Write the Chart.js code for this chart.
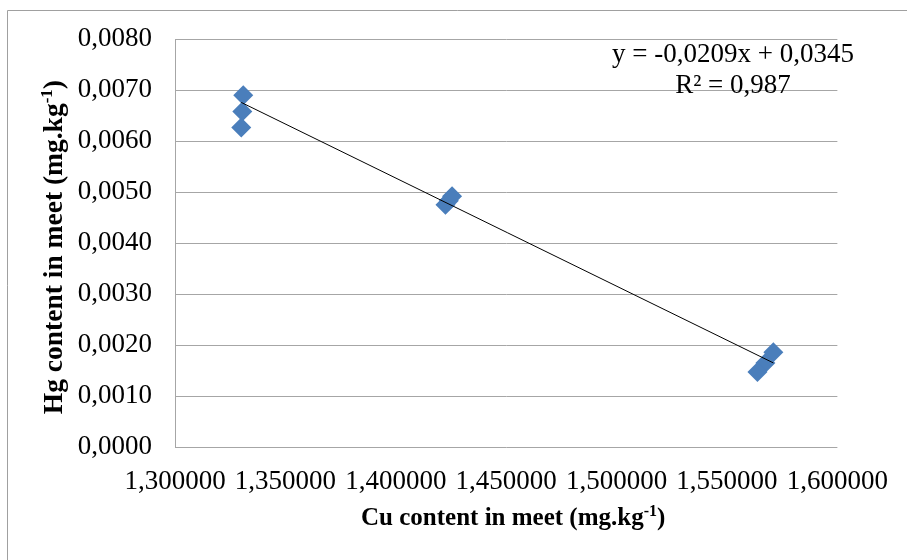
<!DOCTYPE html>
<html>
<head>
<meta charset="utf-8">
<script src="https://cdn.jsdelivr.net/npm/chart.js@4"></script>
<style>
html,body{margin:0;padding:0;background:#fff;}
#wrap{position:relative;width:907px;height:560px;}
canvas{display:block;}
</style>
</head>
<body>
<div id="wrap"><canvas id="c" width="907" height="560"></canvas></div>
<script>
// Data
const cuContent = [1.3309, 1.3305, 1.3300, 1.4255, 1.4240, 1.4225, 1.5710, 1.5674, 1.5638];
const hgContent = [0.00690, 0.00658, 0.00627, 0.00492, 0.00483, 0.00475, 0.00186, 0.00165, 0.00147];
const trendX = [1.3300, 1.5710];
const trendY = [0.00676, 0.00165];
const xTickLabels = ["1,300000", "1,350000", "1,400000", "1,450000", "1,500000", "1,550000", "1,600000"];
const yTickLabels = ["0,0000", "0,0010", "0,0020", "0,0030", "0,0040", "0,0050", "0,0060", "0,0070", "0,0080"];
const equationText = "y = -0,0209x + 0,0345";
const r2Text = "R² = 0,987";
const xTitle = ["Cu content in meet (mg.kg", "-1", ")"];
const yTitle = ["Hg content in meet (mg.kg", "-1", ")"];

const FONT = '"Liberation Serif", "Times New Roman", serif';
const GRID = '#a6a6a6';

function drawSup(ctx, parts, size) {
  const mainF = 'bold ' + size + 'px ' + FONT;
  const supF = 'bold ' + Math.round(size * 0.62) + 'px ' + FONT;
  ctx.font = mainF; const w0 = ctx.measureText(parts[0]).width;
  ctx.font = supF; const w1 = ctx.measureText(parts[1]).width;
  ctx.font = mainF; const w2 = ctx.measureText(parts[2]).width;
  const total = w0 + w1 + w2;
  let x = -total / 2;
  ctx.textAlign = 'left';
  ctx.textBaseline = 'alphabetic';
  ctx.font = mainF; ctx.fillText(parts[0], x, 0); x += w0;
  ctx.font = supF; ctx.fillText(parts[1], x, -size * 0.38); x += w1;
  ctx.font = mainF; ctx.fillText(parts[2], x, 0);
}

const decor = {
  id: 'decor',
  beforeDraw(chart) {
    const ctx = chart.ctx;
    ctx.save();
    ctx.fillStyle = '#fff';
    ctx.fillRect(0, 0, chart.width, chart.height);
    ctx.strokeStyle = '#a0a0a0';
    ctx.lineWidth = 1;
    ctx.beginPath();
    ctx.moveTo(7.5, 560); ctx.lineTo(7.5, 10.5); ctx.lineTo(907, 10.5);
    ctx.stroke();
    ctx.restore();
  },
  afterDraw(chart) {
    const ctx = chart.ctx;
    const area = chart.chartArea;
    ctx.save();
    ctx.fillStyle = '#000';
    // x title
    ctx.save();
    ctx.translate((area.left + area.right) / 2 + 7, 525);
    drawSup(ctx, xTitle, 25);
    ctx.restore();
    // y title
    ctx.save();
    ctx.translate(62, (area.top + area.bottom) / 2 + 4);
    ctx.rotate(-Math.PI / 2);
    drawSup(ctx, yTitle, 27.5);
    ctx.restore();
    // equation
    ctx.font = '27px ' + FONT;
    ctx.textAlign = 'center';
    ctx.textBaseline = 'middle';
    ctx.fillText(equationText, 733, 55);
    ctx.fillText(r2Text, 733, 86);
    ctx.restore();
  }
};

new Chart(document.getElementById('c'), {
  type: 'scatter',
  data: {
    datasets: [
      {
        type: 'line',
        data: trendX.map((x, i) => ({x: x, y: trendY[i]})),
        borderColor: '#000',
        borderWidth: 1,
        pointRadius: 0,
        fill: false,
        order: 0
      },
      {
        data: cuContent.map((x, i) => ({x: x, y: hgContent[i]})),
        pointStyle: 'rectRot',
        pointRadius: 10,
        pointHoverRadius: 10,
        backgroundColor: '#4A7EBB',
        borderColor: '#4A7EBB',
        borderWidth: 0,
        order: 1
      }
    ]
  },
  options: {
    responsive: false,
    animation: false,
    events: [],
    layout: { padding: { left: 0, top: 39, right: 69, bottom: 0 } },
    plugins: { legend: { display: false }, tooltip: { enabled: false } },
    scales: {
      x: {
        type: 'linear',
        min: 1.3, max: 1.6,
        afterBuildTicks(s) { s.ticks = xTickLabels.map((_, i) => ({value: 1.3 + i * 0.05})); },
        ticks: {
          callback: (v, i) => xTickLabels[i],
          font: { family: FONT, size: 27 },
          color: '#000',
          padding: 19,
          maxRotation: 0,
          autoSkip: false
        },
        grid: { display: false, drawTicks: false },
        border: { display: false },
        afterFit(s) { s.height = 113; }
      },
      y: {
        type: 'linear',
        min: 0, max: 0.008,
        afterBuildTicks(s) { s.ticks = yTickLabels.map((_, i) => ({value: i * 0.001})); },
        ticks: {
          callback: (v, i) => yTickLabels[i],
          font: { family: FONT, size: 27 },
          color: '#000',
          padding: 23,
          autoSkip: false
        },
        grid: { color: GRID, lineWidth: 1, drawTicks: false },
        border: { display: true, color: GRID, width: 1 },
        afterFit(s) { s.width = 175; }
      }
    }
  },
  plugins: [decor]
});
</script>
</body>
</html>
